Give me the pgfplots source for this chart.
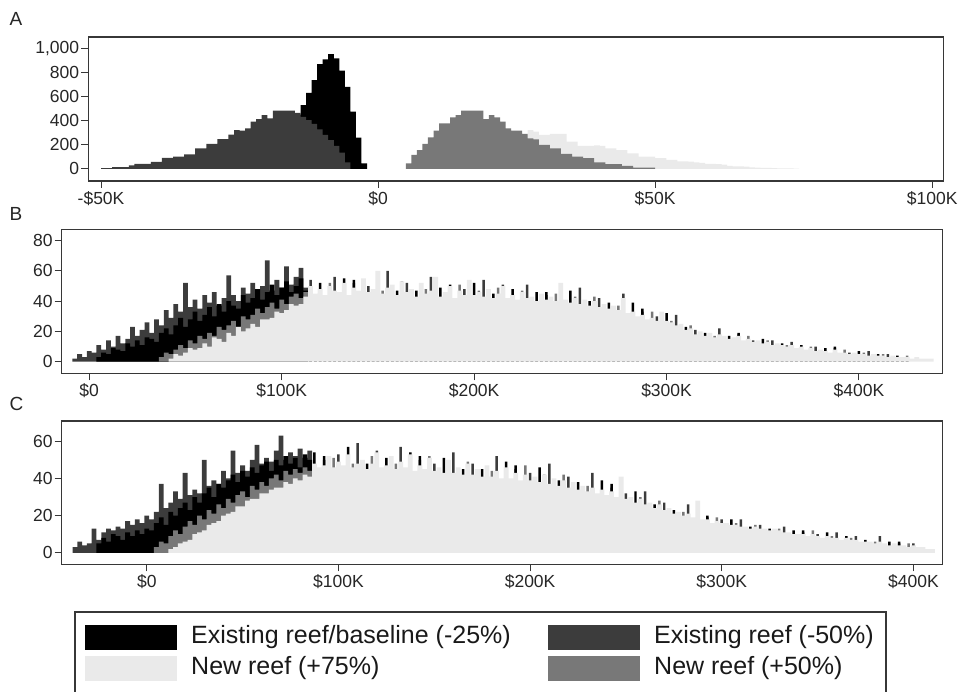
\documentclass[border=0pt]{standalone}
\usepackage{pgfplots}
\pgfplotsset{compat=1.18}
\usepackage{fontspec}
\setmainfont{Liberation Sans}
\definecolor{cBlack}{RGB}{0,0,0}
\definecolor{cDark}{RGB}{60,60,60}
\definecolor{cMid}{RGB}{120,120,120}
\definecolor{cLight}{RGB}{234,234,234}
\definecolor{cFrame}{RGB}{55,55,55}
\pgfplotsset{
  panel/.style={
    scale only axis, anchor=south west,
    axis line style={cFrame, line width=1.2pt},
    tick style={cFrame, line width=1pt},
    tick align=outside, major tick length=7pt,
    xtick pos=bottom, ytick pos=left,
    ticklabel style={font=\fontsize{17.5}{20}\selectfont, text=black!85},
    yticklabel style={inner sep=2pt},
    ybar,
  },
  hbar/.style={draw=none, fill=#1, bar shift=0pt},
}
\begin{document}
\begin{tikzpicture}[x=1pt,y=1pt]
\useasboundingbox (0,0) rectangle (961,692);
% ---------------- Panel A ----------------
\node[anchor=west, font=\fontsize{19}{21}\selectfont, text=black!85] at (6,673.5) {A};
\begin{axis}[panel, at={(88.3pt,511pt)}, width=855pt, height=144pt,
  xmin=-52.3, xmax=102, ymin=-100, ymax=1095,
  xtick={-50,0,50,100}, xticklabels={-\$50K,\$0,\$50K,\$100K},
  ytick={0,200,400,600,800,1000}, yticklabels={0,200,400,600,800,{1,000}}]
\addplot[hbar=cBlack, bar width=1] coordinates {
(-19.5,150)(-18.5,220)(-17.5,290)(-16.5,350)(-15.5,400)(-14.5,450)(-13.5,530)(-12.5,632)(-11.5,737)(-10.5,870)(-9.5,909)(-8.5,953)(-7.5,917)(-6.5,815)(-5.5,682)(-4.5,475)(-3.5,260)(-2.5,47)};
\addplot[hbar=cDark, bar width=1] coordinates {
(-49.5,6)(-48.5,6)(-47.5,16)(-46.5,16)(-45.5,16)(-44.5,30)(-43.5,41)(-42.5,41)(-41.5,41)(-40.5,58)(-39.5,58)(-38.5,91)(-37.5,91)(-36.5,102)(-35.5,102)(-34.5,121)(-33.5,121)(-32.5,171)(-31.5,171)(-30.5,207)(-29.5,207)(-28.5,248)(-27.5,248)(-26.5,284)(-25.5,323)(-24.5,317)(-23.5,337)(-22.5,392)(-21.5,414)(-20.5,447)(-19.5,420)(-18.5,483)(-17.5,483)(-16.5,483)(-15.5,483)(-14.5,466)(-13.5,433)(-12.5,406)(-11.5,373)(-10.5,329)(-9.5,282)(-8.5,240)(-7.5,191)(-6.5,135)(-5.5,55)};
\addplot[hbar=cLight, bar width=1] coordinates {
(8.5,40)(9.5,70)(10.5,100)(11.5,130)(12.5,160)(13.5,190)(14.5,210)(15.5,230)(16.5,250)(17.5,265)(18.5,280)(19.5,290)(20.5,300)(21.5,300)(22.5,305)(23.5,310)(24.5,310)(25.5,300)(26.5,280)(27.5,323)(28.5,309)(29.5,282)(30.5,282)(31.5,290)(32.5,290)(33.5,290)(34.5,226)(35.5,226)(36.5,191)(37.5,191)(38.5,191)(39.5,195)(40.5,191)(41.5,171)(42.5,171)(43.5,157)(44.5,157)(45.5,130)(46.5,130)(47.5,102)(48.5,102)(49.5,102)(50.5,89)(51.5,89)(52.5,75)(53.5,75)(54.5,63)(55.5,63)(56.5,60)(57.5,55)(58.5,50)(59.5,41)(60.5,41)(61.5,40)(62.5,36)(63.5,25)(64.5,22)(65.5,22)(66.5,20)(67.5,12)(68.5,10)(69.5,8)(70.5,8)(71.5,6)(72.5,5)(73.5,5)(74.5,4)(75.5,3)};
\addplot[hbar=cMid, bar width=1] coordinates {
(5.5,47)(6.5,116)(7.5,157)(8.5,207)(9.5,262)(10.5,317)(11.5,378)(12.5,378)(13.5,428)(14.5,447)(15.5,483)(16.5,483)(17.5,483)(18.5,483)(19.5,414)(20.5,447)(21.5,428)(22.5,392)(23.5,337)(24.5,317)(25.5,317)(26.5,290)(27.5,254)(28.5,246)(29.5,199)(30.5,199)(31.5,171)(32.5,171)(33.5,124)(34.5,124)(35.5,102)(36.5,102)(37.5,89)(38.5,89)(39.5,55)(40.5,55)(41.5,39)(42.5,39)(43.5,39)(44.5,25)(45.5,25)(46.5,11)(47.5,11)(48.5,11)(49.5,11)};
\end{axis}
% ---------------- Panel B ----------------
\node[anchor=west, font=\fontsize{19}{21}\selectfont, text=black!85] at (6,478) {B};
\begin{axis}[panel, at={(61.7pt,318.7pt)}, width=881pt, height=144pt,
  xmin=-14.3, xmax=443.5, ymin=-7.7, ymax=87.5,
  xtick={0,100,200,300,400}, xticklabels={\$0,\$100K,\$200K,\$300K,\$400K},
  ytick={0,20,40,60,80}, yticklabels={0,20,40,60,80}]
\addplot[hbar=cDark, bar width=2.5] coordinates {
(-7.5,2)(-5,5)(-2.5,3)(0,7)(2.5,6)(5,11)(7.5,8)(10,14)(12.5,10)(15,17)
(17.5,12)(20,15)(22.5,23)(25,17)(27.5,21)(30,26)(32.5,19)(35,28)(37.5,24)(40,34)
(42.5,29)(45,38)(47.5,33)(50,52)(52.5,36)(55,41)(57.5,35)(60,44)(62.5,39)(65,46)
(67.5,37)(70,42)(72.5,57)(75,44)(77.5,40)(80,49)(82.5,45)(85,52)(87.5,43)(90,50)
(92.5,67)(95,47)(97.5,54)(100,49)(102.5,63)(105,51)(107.5,56)(110,62)(112.5,49)};
\addplot[hbar=cDark, bar width=1.3] coordinates {
(115,54)(117.5,40)(120,45)(122.5,37)(125,47)(127.5,56)(130,40)(132.5,45)(135,36)(137.5,52)
(140,44)(142.5,43)(145,50)(147.5,46)(150,44)(152.5,38)(155,60)(157.5,46)(160,38)(162.5,45)
(165,52)(167.5,43)(170,40)(172.5,41)(175,43)(177.5,56)(180,41)(182.5,39)(185,38)(187.5,49)
(190,39)(192.5,40)(195,48)(197.5,44)(200,39)(202.5,38)(205,54)(207.5,42)(210,36)(212.5,41)
(215,51)(217.5,37)(220,41)(222.5,34)(225,42)(227.5,51)(230,37)(232.5,36)(235,35)(237.5,44)
(240,40)(242.5,34)(245,46)(247.5,39)(250,34)(252.5,34)(255,49)(257.5,37)(260,31)(262.5,35)
(265,42)(267.5,33)(270,32)(272.5,30)(275,32)(277.5,45)(280,26)(282.5,29)(285,24)(287.5,33)
(290,26)(292.5,25)(295,30)(297.5,28)(300,24)(302.5,21)(305,31)(307.5,23)(310,18)(312.5,20)
(315,21)(317.5,18)(320,16)(322.5,16)(325,15)(327.5,22)(330,15)(332.5,13)(335,13)(337.5,18)
(340,13)(342.5,13)(345,14)(347.5,13)(350,10)(352.5,11)(355,14)(357.5,11)(360,9)(362.5,9)
(365,13)(367.5,8)(370,9)(372.5,6)(375,8)(377.5,10)(380,6)(382.5,6)(385,4)(387.5,9)
(390,5)(392.5,4)(395,6)(397.5,5)(400,4)(402.5,3)(405,7)(407.5,4)(410,2)(412.5,3)
(415,5)(417.5,3)(420,2)(422.5,1)(425,2)};
\addplot[hbar=cBlack, bar width=2.5] coordinates {
(5,3)(7.5,6)(10,5)(12.5,9)(15,8)(17.5,7)(20,12)(22.5,10)(25,14)(27.5,11)
(30,16)(32.5,15)(35,13)(37.5,19)(40,22)(42.5,18)(45,24)(47.5,29)(50,23)(52.5,28)
(55,33)(57.5,27)(60,31)(62.5,36)(65,30)(67.5,38)(70,33)(72.5,40)(75,37)(77.5,35)
(80,44)(82.5,39)(85,42)(87.5,48)(90,41)(92.5,46)(95,51)(97.5,44)(100,49)(102.5,53)
(105,46)(107.5,50)(110,55)(112.5,47)};
\addplot[hbar=cBlack, bar width=1.3] coordinates {
(115,44)(117.5,42)(120,52)(122.5,38)(125,44)(127.5,45)(130,39)(132.5,55)(135,41)(137.5,54)
(140,41)(142.5,47)(145,41)(147.5,44)(150,57)(152.5,42)(155,43)(157.5,47)(160,47)(162.5,42)
(165,42)(167.5,45)(170,47)(172.5,42)(175,40)(177.5,45)(180,40)(182.5,49)(185,43)(187.5,51)
(190,36)(192.5,44)(195,39)(197.5,42)(200,52)(202.5,42)(205,37)(207.5,43)(210,45)(212.5,38)
(215,41)(217.5,39)(220,48)(222.5,35)(225,39)(227.5,40)(230,36)(232.5,46)(235,40)(237.5,46)
(240,37)(242.5,38)(245,37)(247.5,37)(250,47)(252.5,38)(255,32)(257.5,38)(260,40)(262.5,32)
(265,32)(267.5,35)(270,39)(272.5,31)(275,29)(277.5,34)(280,25)(282.5,39)(285,28)(287.5,35)
(290,24)(292.5,28)(295,24)(297.5,26)(300,32)(302.5,24)(305,20)(307.5,24)(310,23)(312.5,18)
(315,16)(317.5,19)(320,19)(322.5,16)(325,14)(327.5,17)(330,14)(332.5,17)(335,15)(337.5,19)
(340,12)(342.5,14)(345,11)(347.5,13)(350,15)(352.5,12)(355,9)(357.5,11)(360,12)(362.5,8)
(365,10)(367.5,8)(370,11)(372.5,6)(375,7)(377.5,6)(380,6)(382.5,9)(385,5)(387.5,10)
(390,4)(392.5,5)(395,4)(397.5,5)(400,7)(402.5,4)(405,2)(407.5,4)(410,5)(412.5,2)
(415,2)(417.5,3)(420,4)(422.5,1)(425,1)};
\addplot[hbar=cMid, bar width=2.5] coordinates {
(37.5,3)(40,6)(42.5,5)(45,8)(47.5,11)(50,9)(52.5,14)(55,12)(57.5,17)(60,15)
(62.5,19)(65,17)(67.5,23)(70,21)(72.5,24)(75,27)(77.5,23)(80,30)(82.5,28)(85,31)
(87.5,35)(90,32)(92.5,36)(95,39)(97.5,35)(100,41)(102.5,38)(105,43)(107.5,45)(110,42)(112.5,46)};
\addplot[hbar=cMid, bar width=1.3] coordinates {
(115,46)(117.5,39)(120,43)(122.5,42)(125,52)(127.5,43)(130,43)(132.5,44)(135,42)(137.5,42)
(140,43)(142.5,54)(145,43)(147.5,42)(150,47)(152.5,47)(155,44)(157.5,45)(160,41)(162.5,53)
(165,44)(167.5,42)(170,38)(172.5,46)(175,48)(177.5,43)(180,44)(182.5,38)(185,44)(187.5,39)
(190,38)(192.5,51)(195,41)(197.5,40)(200,42)(202.5,47)(205,38)(207.5,41)(210,39)(212.5,49)
(215,43)(217.5,36)(220,39)(222.5,39)(225,47)(227.5,38)(230,40)(232.5,35)(235,41)(237.5,34)
(240,39)(242.5,45)(245,39)(247.5,35)(250,37)(252.5,43)(255,33)(257.5,36)(260,34)(262.5,43)
(265,34)(267.5,32)(270,30)(272.5,35)(275,37)(277.5,32)(280,29)(282.5,28)(285,28)(287.5,26)
(290,25)(292.5,33)(295,25)(297.5,25)(300,26)(302.5,27)(305,21)(307.5,23)(310,19)(312.5,24)
(315,17)(317.5,17)(320,15)(322.5,18)(325,17)(327.5,16)(330,16)(332.5,13)(335,15)(337.5,14)
(340,12)(342.5,17)(345,12)(347.5,12)(350,11)(352.5,14)(355,10)(357.5,11)(360,10)(362.5,11)
(365,10)(367.5,7)(370,8)(372.5,7)(375,10)(377.5,6)(380,7)(382.5,6)(385,5)(387.5,6)
(390,5)(392.5,8)(395,4)(397.5,4)(400,4)(402.5,6)(405,3)(407.5,4)(410,3)(412.5,5)
(415,2)(417.5,2)(420,2)(422.5,2)(425,4)};
\addplot[hbar=cLight, bar width=2.5] coordinates {
(42.5,2)(45,5)(47.5,4)(50,6)(52.5,9)(55,8)(57.5,9)(60,12)(62.5,10)(65,16)
(67.5,15)(70,13)(72.5,19)(75,17)(77.5,23)(80,20)(82.5,22)(85,25)(87.5,23)(90,28)
(92.5,28)(95,29)(97.5,33)(100,32)(102.5,34)(105,38)(107.5,37)(110,38)(112.5,43)(115,50)
(117.5,45)(120,48)(122.5,44)(125,50)(127.5,47)(130,46)(132.5,52)(135,44)(137.5,49)(140,47)
(142.5,55)(145,46)(147.5,48)(150,60)(152.5,45)(155,49)(157.5,51)(160,44)(162.5,53)(165,46)
(167.5,48)(170,43)(172.5,52)(175,45)(177.5,47)(180,56)(182.5,43)(185,46)(187.5,50)(190,42)
(192.5,47)(195,44)(197.5,54)(200,44)(202.5,46)(205,43)(207.5,48)(210,42)(212.5,45)(215,50)
(217.5,42)(220,44)(222.5,41)(225,46)(227.5,42)(230,43)(232.5,40)(235,45)(237.5,41)(240,43)
(242.5,40)(245,52)(247.5,41)(250,39)(252.5,42)(255,38)(257.5,41)(260,37)(262.5,40)(265,36)
(267.5,38)(270,35)(272.5,37)(275,34)(277.5,42)(280,32)(282.5,33)(285,30)(287.5,31)(290,28)
(292.5,29)(295,27)(297.5,33)(300,27)(302.5,26)(305,24)(307.5,25)(310,21)(312.5,22)(315,18)
(317.5,20)(320,17)(322.5,19)(325,16)(327.5,18)(330,17)(332.5,15)(335,16)(337.5,17)(340,14)
(342.5,15)(345,13)(347.5,14)(350,12)(352.5,13)(355,11)(357.5,12)(360,11)(362.5,10)(365,11)
(367.5,9)(370,10)(372.5,8)(375,9)(377.5,7)(380,8)(382.5,7)(385,6)(387.5,8)(390,6)
(392.5,6)(395,5)(397.5,6)(400,5)(402.5,5)(405,4)(407.5,5)(410,4)(412.5,4)(415,3)
(417.5,4)(420,3)(422.5,3)(425,3)(427.5,2)(430,3)(432.5,2)(435,2)(437.5,2)};
\end{axis}
% ---------------- Panel C ----------------
\node[anchor=west, font=\fontsize{19}{21}\selectfont, text=black!85] at (6,288) {C};
\begin{axis}[panel, at={(61.7pt,127.7pt)}, width=881pt, height=143.3pt,
  xmin=-44.4, xmax=415.3, ymin=-6.2, ymax=70.9,
  xtick={0,100,200,300,400}, xticklabels={\$0,\$100K,\$200K,\$300K,\$400K},
  ytick={0,20,40,60}, yticklabels={0,20,40,60}]
\addplot[hbar=cDark, bar width=2.5] coordinates {
(-37.5,3)(-35,6)(-32.5,4)(-30,5)(-27.5,13)(-25,7)(-22.5,11)(-20,13)(-17.5,12)(-15,14)
(-12.5,13)(-10,17)(-7.5,15)(-5,18)(-2.5,16)(0,20)(2.5,18)(5,22)(7.5,37)(10,24)
(12.5,27)(15,33)(17.5,29)(20,43)(22.5,31)(25,34)(27.5,32)(30,50)(32.5,36)(35,39)
(37.5,37)(40,44)(42.5,40)(45,55)(47.5,43)(50,47)(52.5,44)(55,50)(57.5,58)(60,48)
(62.5,51)(65,49)(67.5,55)(70,63)(72.5,50)(75,54)(77.5,52)(80,56)(82.5,51)(85,55)};
\addplot[hbar=cDark, bar width=1.3] coordinates {
(87.5,44)(90,38)(92.5,50)(95,46)(97.5,40)(100,53)(102.5,45)(105,44)(107.5,39)(110,59)
(112.5,46)(115,39)(117.5,44)(120,55)(122.5,41)(125,44)(127.5,42)(130,43)(132.5,57)(135,40)
(137.5,44)(140,36)(142.5,50)(145,42)(147.5,41)(150,48)(152.5,44)(155,38)(157.5,39)(160,54)
(162.5,42)(165,36)(167.5,41)(170,48)(172.5,39)(175,38)(177.5,37)(180,39)(182.5,52)(185,34)
(187.5,39)(190,32)(192.5,45)(195,36)(197.5,36)(200,43)(202.5,39)(205,33)(207.5,33)(210,48)
(212.5,36)(215,30)(217.5,34)(220,41)(222.5,32)(225,31)(227.5,30)(230,31)(232.5,43)(235,27)
(237.5,31)(240,25)(242.5,35)(245,28)(247.5,27)(250,32)(252.5,29)(255,23)(257.5,24)(260,33)
(262.5,25)(265,20)(267.5,24)(270,27)(272.5,21)(275,19)(277.5,18)(280,19)(282.5,26)(285,16)
(287.5,19)(290,14)(292.5,19)(295,15)(297.5,15)(300,18)(302.5,15)(305,13)(307.5,12)(310,18)
(312.5,13)(315,11)(317.5,13)(320,15)(322.5,11)(325,11)(327.5,11)(330,11)(332.5,14)(335,9)
(337.5,9)(340,8)(342.5,11)(345,8)(347.5,8)(350,10)(352.5,7)(355,8)(357.5,6)(360,11)
(362.5,6)(365,6)(367.5,6)(370,9)(372.5,5)(375,5)(377.5,4)(380,4)(382.5,9)(385,3)
(387.5,3)(390,3)(392.5,5)(395,3)(397.5,1)(400,5)};
\addplot[hbar=cBlack, bar width=2.5] coordinates {
(-25,5)(-22.5,8)(-20,6)(-17.5,10)(-15,9)(-12.5,7)(-10,11)(-7.5,9)(-5,12)(-2.5,10)
(0,13)(2.5,12)(5,16)(7.5,19)(10,15)(12.5,22)(15,20)(17.5,24)(20,27)(22.5,23)
(25,30)(27.5,27)(30,32)(32.5,35)(35,30)(37.5,37)(40,35)(42.5,39)(45,42)(47.5,38)
(50,44)(52.5,41)(55,46)(57.5,43)(60,47)(62.5,49)(65,44)(67.5,50)(70,47)(72.5,52)
(75,48)(77.5,51)(80,46)(82.5,53)(85,50)};
\addplot[hbar=cBlack, bar width=1.3] coordinates {
(87.5,54)(90,43)(92.5,52)(95,43)(97.5,44)(100,44)(102.5,43)(105,57)(107.5,43)(110,42)
(112.5,47)(115,48)(117.5,41)(120,45)(122.5,43)(125,51)(127.5,43)(130,40)(132.5,46)(135,39)
(137.5,54)(140,41)(142.5,52)(145,39)(147.5,45)(150,39)(152.5,42)(155,51)(157.5,43)(160,37)
(162.5,43)(165,45)(167.5,38)(170,38)(172.5,41)(175,45)(177.5,38)(180,36)(182.5,41)(185,33)
(187.5,49)(190,37)(192.5,47)(195,33)(197.5,40)(200,34)(202.5,37)(205,46)(207.5,37)(210,31)
(212.5,37)(215,39)(217.5,31)(220,31)(222.5,34)(225,38)(227.5,31)(230,29)(232.5,33)(235,26)
(237.5,39)(240,29)(242.5,37)(245,25)(247.5,30)(250,25)(252.5,27)(255,33)(257.5,27)(260,22)
(262.5,26)(265,26)(267.5,22)(270,21)(272.5,22)(275,23)(277.5,19)(280,17)(282.5,20)(285,16)
(287.5,24)(290,17)(292.5,20)(295,13)(297.5,16)(300,14)(302.5,14)(305,18)(307.5,14)(310,12)
(312.5,13)(315,14)(317.5,12)(320,12)(322.5,12)(325,13)(327.5,11)(330,10)(332.5,10)(335,9)
(337.5,12)(340,9)(342.5,12)(345,7)(347.5,9)(350,8)(352.5,7)(355,11)(357.5,7)(360,6)
(362.5,6)(365,9)(367.5,5)(370,6)(372.5,5)(375,7)(377.5,4)(380,4)(382.5,5)(385,3)
(387.5,6)(390,4)(392.5,6)(395,2)(397.5,2)(400,3)};
\addplot[hbar=cMid, bar width=2.5] coordinates {
(5,3)(7.5,6)(10,5)(12.5,9)(15,12)(17.5,10)(20,14)(22.5,17)(25,15)(27.5,20)
(30,18)(32.5,23)(35,21)(37.5,26)(40,24)(42.5,29)(45,27)(47.5,31)(50,33)(52.5,30)
(55,36)(57.5,34)(60,38)(62.5,36)(65,40)(67.5,42)(70,39)(72.5,44)(75,42)(77.5,45)
(80,43)(82.5,46)(85,44)};
\addplot[hbar=cMid, bar width=1.3] coordinates {
(87.5,43)(90,44)(92.5,40)(95,45)(97.5,51)(100,46)(102.5,41)(105,47)(107.5,48)(110,43)
(112.5,45)(115,42)(117.5,52)(120,47)(122.5,40)(125,42)(127.5,47)(130,48)(132.5,44)(135,43)
(137.5,43)(140,42)(142.5,40)(145,41)(147.5,52)(150,41)(152.5,40)(155,41)(157.5,48)(160,38)
(162.5,41)(165,39)(167.5,49)(170,40)(172.5,38)(175,36)(177.5,42)(180,44)(182.5,39)(185,37)
(187.5,38)(190,38)(192.5,35)(195,35)(197.5,47)(200,36)(202.5,35)(205,36)(207.5,42)(210,32)
(212.5,35)(215,33)(217.5,42)(220,33)(222.5,31)(225,30)(227.5,34)(230,36)(232.5,32)(235,30)
(237.5,30)(240,29)(242.5,27)(245,27)(247.5,36)(250,27)(252.5,26)(255,26)(257.5,30)(260,23)
(262.5,24)(265,22)(267.5,28)(270,22)(272.5,21)(275,18)(277.5,21)(280,22)(282.5,19)(285,18)
(287.5,19)(290,17)(292.5,15)(295,14)(297.5,19)(300,15)(302.5,14)(305,14)(307.5,16)(310,12)
(312.5,13)(315,12)(317.5,15)(320,12)(322.5,11)(325,10)(327.5,12)(330,13)(332.5,10)(335,10)
(337.5,9)(340,9)(342.5,8)(345,8)(347.5,12)(350,8)(352.5,6)(355,8)(357.5,9)(360,6)
(362.5,6)(365,7)(367.5,8)(370,6)(372.5,4)(375,5)(377.5,5)(380,6)(382.5,5)(385,4)
(387.5,3)(390,4)(392.5,2)(395,3)(397.5,5)(400,3)};
\addplot[hbar=cLight, bar width=2.5] coordinates {
(12.5,2)(15,3)(17.5,5)(20,6)(22.5,7)(25,10)(27.5,11)(30,12)(32.5,15)(35,16)
(37.5,17)(40,20)(42.5,21)(45,22)(47.5,25)(50,25)(52.5,28)(55,29)(57.5,29)(60,32)
(62.5,32)(65,34)(67.5,35)(70,35)(72.5,38)(75,37)(77.5,40)(80,39)(82.5,42)(85,41)
(87.5,48)(90,46)(92.5,47)(95,52)(97.5,46)(100,49)(102.5,47)(105,53)(107.5,46)(110,48)
(112.5,50)(115,45)(117.5,48)(120,54)(122.5,46)(125,47)(127.5,52)(130,45)(132.5,49)(135,46)
(137.5,53)(140,44)(142.5,47)(145,45)(147.5,51)(150,44)(152.5,46)(155,43)(157.5,50)(160,43)
(162.5,46)(165,42)(167.5,48)(170,42)(172.5,45)(175,41)(177.5,47)(180,41)(182.5,44)(185,40)
(187.5,46)(190,40)(192.5,43)(195,39)(197.5,42)(200,39)(202.5,41)(205,38)(207.5,42)(210,37)
(212.5,40)(215,36)(217.5,39)(220,35)(222.5,38)(225,34)(227.5,36)(230,33)(232.5,35)(235,32)
(237.5,34)(240,31)(242.5,33)(245,30)(247.5,41)(250,29)(252.5,30)(255,27)(257.5,29)(260,26)
(262.5,27)(265,24)(267.5,26)(270,23)(272.5,24)(275,21)(277.5,22)(280,20)(282.5,21)(285,19)
(287.5,28)(290,18)(292.5,18)(295,16)(297.5,17)(300,16)(302.5,16)(305,15)(307.5,15)(310,14)
(312.5,14)(315,13)(317.5,14)(320,13)(322.5,13)(325,12)(327.5,13)(330,12)(332.5,11)(335,11)
(337.5,10)(340,10)(342.5,10)(345,9)(347.5,10)(350,9)(352.5,8)(355,9)(357.5,8)(360,8)
(362.5,7)(365,8)(367.5,7)(370,7)(372.5,6)(375,6)(377.5,6)(380,5)(382.5,6)(385,5)
(387.5,4)(390,5)(392.5,4)(395,4)(397.5,3)(400,4)(402.5,3)(405,3)(407.5,2)(410,2)};
\end{axis}
% ---------------- Legend ----------------
\draw[cFrame, line width=1.2pt] (75,-10) rectangle (886,80);
\fill[cBlack] (85,42) rectangle (177,67);
\fill[cDark] (548,42) rectangle (640,67);
\fill[cLight] (85,11) rectangle (177,36);
\fill[cMid] (548,11) rectangle (640,36);
\begin{scope}[every node/.style={anchor=west, font=\fontsize{25}{27}\selectfont, text=black!90, inner sep=0pt}]
\node at (191,54.5) {Existing reef/baseline (-25\%)};
\node at (654,54.5) {Existing reef (-50\%)};
\node at (191,23.5) {New reef (+75\%)};
\node at (654,23.5) {New reef (+50\%)};
\end{scope}
\end{tikzpicture}
\end{document}
